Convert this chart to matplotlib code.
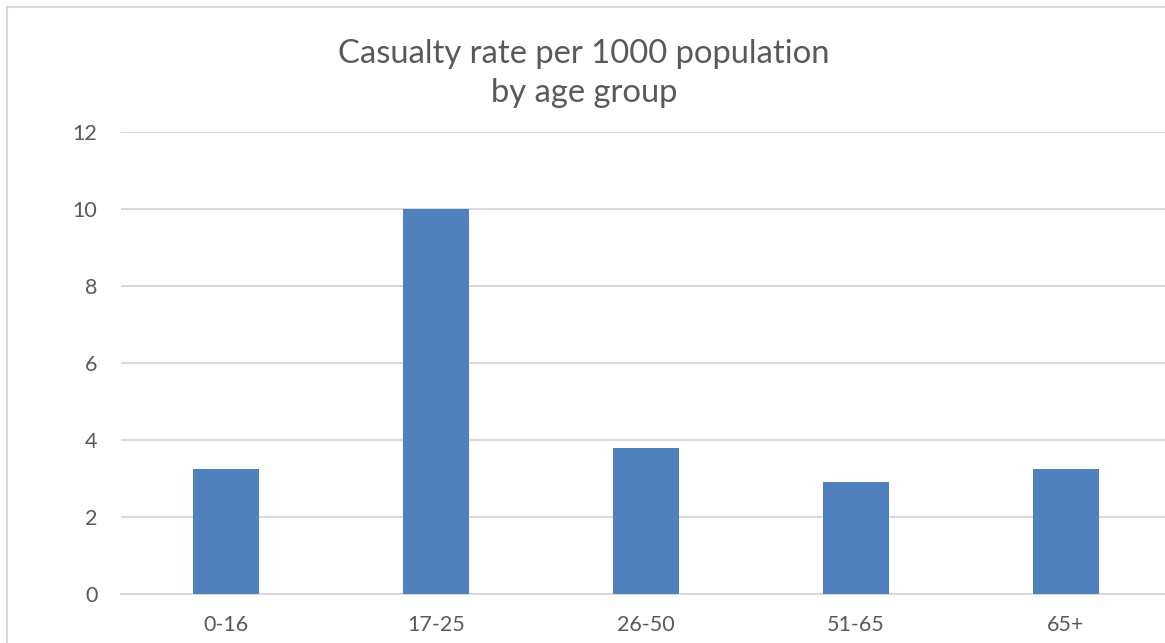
import matplotlib.pyplot as plt
from matplotlib.patches import Rectangle

# Casualty rate per 1000 population, by age band
age_groups = ["0-16", "17-25", "26-50", "51-65", "65+"]
rates = [3.25, 10.0, 3.79, 2.91, 3.25]
y_ticks = [0, 2, 4, 6, 8, 10, 12]

W, H = 1165, 643
text_col = "#595959"
grid_col = "#d9d9d9"
bar_col = "#4f81bd"

plt.rcParams["font.family"] = ["Lato", "DejaVu Sans"]

fig = plt.figure(figsize=(W / 100, H / 100), dpi=100)

# chart frame (runs off the right/bottom edges)
fig.patches.append(Rectangle((7 / W, -0.1), 1.2, 1 - 7 / H + 0.1,
                             transform=fig.transFigure, fill=False,
                             edgecolor=grid_col, linewidth=1.5))

ax = fig.add_axes([121 / W, (H - 594) / H, 1050 / W, 462 / H])
x = range(len(age_groups))
ax.bar(x, rates, width=0.314, color=bar_col, zorder=3)

ax.set_xlim(-0.5, len(age_groups) - 0.5)
ax.set_ylim(0, 12)
ax.set_yticks(y_ticks)
ax.set_xticks(list(x))
ax.set_xticklabels(age_groups)
ax.yaxis.grid(True, color=grid_col, linewidth=1.5, zorder=0)
ax.tick_params(axis="both", length=0, labelsize=15.5, labelcolor=text_col)
ax.tick_params(axis="y", pad=17)
ax.tick_params(axis="x", pad=15)
for s in ["top", "right", "left"]:
    ax.spines[s].set_visible(False)
ax.spines["bottom"].set_color(grid_col)
ax.spines["bottom"].set_linewidth(1.5)

fig.text(584 / W, 1 - 39 / H, "Casualty rate per 1000 population\nby age group",
         ha="center", va="top", fontsize=23.6, color=text_col, linespacing=1.38)

fig.savefig("out.png", dpi=100)
